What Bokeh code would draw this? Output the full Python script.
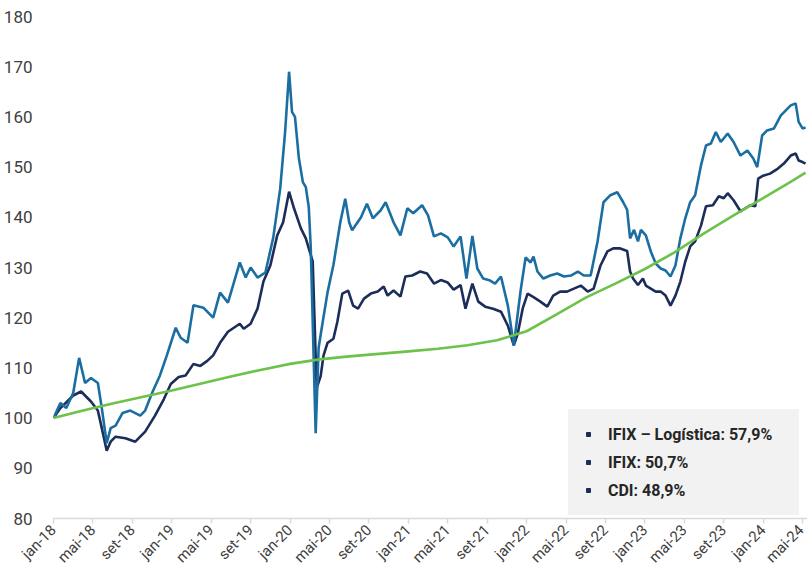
import numpy as np
import pandas as pd
from bokeh.plotting import figure
from bokeh.models import Range1d, FixedTicker, Legend, LegendItem
from bokeh.embed import file_html
from bokeh.resources import INLINE

# ---------------- data ----------------
log_dates = [
    "2018-01-01", "2018-01-22", "2018-02-10", "2018-03-01", "2018-03-19", "2018-04-07", "2018-04-25",
    "2018-05-16", "2018-05-28", "2018-06-13", "2018-06-25", "2018-07-10", "2018-08-01", "2018-08-25",
    "2018-09-25", "2018-10-10", "2018-11-01", "2018-11-25", "2018-12-16", "2019-01-13", "2019-01-28",
    "2019-02-19", "2019-03-07", "2019-04-07", "2019-05-07", "2019-05-28", "2019-06-22", "2019-07-10",
    "2019-07-28", "2019-08-16", "2019-09-01", "2019-09-22", "2019-10-16", "2019-11-10", "2019-12-01",
    "2019-12-16", "2019-12-28", "2020-01-07", "2020-01-16", "2020-01-28", "2020-02-10", "2020-02-19",
    "2020-02-28", "2020-03-04", "2020-03-19", "2020-03-28", "2020-04-10", "2020-04-25", "2020-05-13",
    "2020-06-04", "2020-06-19", "2020-07-01", "2020-07-10", "2020-08-07", "2020-08-25", "2020-09-13",
    "2020-10-07", "2020-10-22", "2020-11-16", "2020-12-07", "2020-12-28", "2021-01-16", "2021-02-13",
    "2021-03-01", "2021-03-19", "2021-04-10", "2021-05-01", "2021-05-19", "2021-06-10", "2021-06-28",
    "2021-07-16", "2021-08-01", "2021-08-19", "2021-09-10", "2021-09-25", "2021-10-13", "2021-11-04",
    "2021-11-22", "2021-12-13", "2021-12-28", "2022-01-13", "2022-01-22", "2022-02-04", "2022-02-22",
    "2022-03-13", "2022-04-04", "2022-04-25", "2022-05-16", "2022-06-07", "2022-06-25", "2022-07-16",
    "2022-08-07", "2022-08-25", "2022-09-16", "2022-10-07", "2022-10-25", "2022-11-07", "2022-11-16",
    "2022-11-28", "2022-12-10", "2022-12-19", "2023-01-04", "2023-01-19", "2023-02-04", "2023-02-19",
    "2023-03-04", "2023-03-19", "2023-04-04", "2023-04-19", "2023-05-04", "2023-05-19", "2023-06-04",
    "2023-06-22", "2023-07-07", "2023-07-22", "2023-08-07", "2023-08-22", "2023-09-13", "2023-10-01",
    "2023-10-22", "2023-11-13", "2023-12-01", "2023-12-13", "2023-12-28", "2024-01-13", "2024-02-04",
    "2024-02-25", "2024-03-10", "2024-03-25", "2024-04-10", "2024-04-19", "2024-05-01", "2024-05-10",
]
log_values = [
    100, 103, 102, 105, 112, 107, 108,
    107, 102, 95, 98, 98.5, 101, 101.5,
    100.5, 101.5, 105, 108.5, 112.5, 118, 116,
    115, 122.5, 122, 120, 125, 123, 127,
    131, 128, 130, 128, 129, 136, 145.7,
    157, 169, 161, 160, 151.7, 147, 146,
    142, 134, 97, 114, 119, 125, 130.5,
    139, 143.7, 139, 137.4, 140, 142.7, 139.8,
    141.4, 143, 139, 136.4, 141.8, 140.8, 142.4,
    140.4, 136.2, 136.8, 136, 134.2, 136.2, 127.8,
    136.3, 129.8, 127.8, 127.4, 126.8, 128.2, 122.4,
    114.5, 125.5, 132, 131, 132.2, 129.2, 127.8,
    128.4, 128.8, 128.2, 128.4, 129.2, 128.4, 128.4,
    135.2, 143, 144.4, 145, 143, 141.5, 135.8,
    137.5, 135.2, 137.5, 136.4, 133.2, 130.8, 129.8,
    129.4, 128.2, 130.4, 135.8, 139.8, 143, 144.4,
    150.4, 154.3, 154.7, 157, 155, 156.7, 155,
    152.3, 153.3, 151.7, 150, 156.3, 157.3, 157.7,
    160.3, 161.3, 162.3, 162.7, 159, 157.7, 157.9,
]

ifix_dates = [
    "2018-01-01", "2018-01-22", "2018-03-01", "2018-03-25", "2018-04-25", "2018-05-16", "2018-05-28",
    "2018-06-13", "2018-06-25", "2018-07-10", "2018-08-10", "2018-09-10", "2018-10-10", "2018-11-10",
    "2018-12-07", "2018-12-28", "2019-01-22", "2019-02-13", "2019-03-07", "2019-03-28", "2019-04-19",
    "2019-05-07", "2019-05-28", "2019-06-22", "2019-07-10", "2019-07-28", "2019-08-10", "2019-09-01",
    "2019-09-22", "2019-10-10", "2019-11-01", "2019-11-22", "2019-12-10", "2019-12-28", "2020-01-13",
    "2020-02-04", "2020-02-19", "2020-02-28", "2020-03-10", "2020-03-22", "2020-04-04", "2020-04-13",
    "2020-04-25", "2020-05-13", "2020-05-25", "2020-06-10", "2020-06-28", "2020-07-13", "2020-07-28",
    "2020-08-16", "2020-09-07", "2020-09-28", "2020-10-16", "2020-10-28", "2020-11-16", "2020-12-07",
    "2020-12-22", "2021-01-13", "2021-02-07", "2021-02-28", "2021-03-19", "2021-04-10", "2021-05-01",
    "2021-05-19", "2021-06-10", "2021-06-25", "2021-07-16", "2021-08-04", "2021-08-25", "2021-09-19",
    "2021-10-13", "2021-11-04", "2021-11-22", "2021-12-04", "2021-12-19", "2022-01-04", "2022-01-22",
    "2022-02-13", "2022-03-04", "2022-03-22", "2022-04-13", "2022-05-04", "2022-05-25", "2022-06-16",
    "2022-07-07", "2022-07-25", "2022-08-16", "2022-09-07", "2022-09-25", "2022-10-16", "2022-11-07",
    "2022-11-16", "2022-11-25", "2022-12-10", "2022-12-25", "2023-01-04", "2023-01-19", "2023-02-04",
    "2023-02-19", "2023-03-04", "2023-03-19", "2023-04-04", "2023-04-19", "2023-05-04", "2023-05-19",
    "2023-06-04", "2023-06-22", "2023-07-07", "2023-07-28", "2023-08-16", "2023-09-01", "2023-09-13",
    "2023-10-01", "2023-10-22", "2023-11-07", "2023-11-22", "2023-12-07", "2023-12-16", "2024-01-01",
    "2024-01-22", "2024-02-16", "2024-03-04", "2024-03-25", "2024-04-10", "2024-04-19", "2024-05-01",
    "2024-05-10",
]
ifix_values = [
    100, 102, 104.5, 105.3, 103.3, 101.5, 98,
    93.5, 95.3, 96.3, 96, 95.3, 97.3, 100.5,
    103.8, 106.8, 108.2, 108.5, 110.8, 110.4, 111.4,
    112.5, 115, 117.2, 118, 118.8, 117.8, 118.8,
    121.8, 127.2, 130.4, 136.4, 139, 145.1, 141.8,
    137.8, 135.8, 133.8, 131.2, 106, 108.3, 112.5,
    115, 115.8, 119.2, 124.8, 125.4, 122.4, 121.8,
    123.8, 124.8, 125.2, 126.2, 124.4, 125.4, 124.2,
    128.2, 128.4, 129.2, 128.8, 126.8, 127.5, 127,
    125.6, 126.5, 121.8, 126.8, 123.2, 122.2, 121.8,
    121.2, 118.4, 114.5, 116.8, 121.8, 124.8, 124.1,
    123.2, 122.2, 124.4, 125.2, 125.2, 125.8, 126.4,
    125.2, 125.8, 130.4, 133.2, 133.8, 133.8, 133.3,
    129.2, 127.8, 126.5, 127.8, 126.4, 125.8, 125.2,
    125.2, 124.4, 122.4, 124.4, 127.2, 131.2, 134.2,
    135.2, 138.4, 142.2, 142.4, 144.2, 143.8, 144.8,
    143.4, 141.2, 141.8, 142.4, 142.2, 147.7, 148.3,
    148.7, 149.7, 150.7, 152.3, 152.7, 151.3, 151,
    150.7,
]

cdi_dates = [
    "2018-01-01", "2018-04-01", "2018-07-01", "2018-10-01", "2019-01-01", "2019-04-01", "2019-07-01",
    "2019-10-01", "2020-01-01", "2020-04-01", "2020-07-01", "2020-10-01", "2021-01-01", "2021-04-01",
    "2021-07-01", "2021-10-01", "2022-01-01", "2022-04-01", "2022-07-01", "2022-10-01", "2023-01-01",
    "2023-04-01", "2023-07-01", "2023-10-01", "2024-01-01", "2024-04-01", "2024-05-10",
]
cdi_values = [
    100, 101.5, 102.9, 104.2, 105.5, 106.9, 108.3,
    109.6, 110.8, 111.7, 112.3, 112.8, 113.3, 113.8,
    114.5, 115.5, 117.3, 120.6, 124.0, 126.8, 129.7,
    133.0, 136.8, 140.4, 143.8, 147.3, 148.9,
]

tick_labels = [
    "jan-18", "mai-18", "set-18", "jan-19", "mai-19", "set-19", "jan-20", "mai-20", "set-20", "jan-21",
    "mai-21", "set-21", "jan-22", "mai-22", "set-22", "jan-23", "mai-23", "set-23", "jan-24", "mai-24",
]
y_ticks = [80, 90, 100, 110, 120, 130, 140, 150, 160, 170, 180]
legend_labels = ["IFIX \u2013 Log\u00edstica: 57,9%", "IFIX: 50,7%", "CDI: 48,9%"]

# ---------------- styling ----------------
C_LOG = "#1b6ea1"
C_IFIX = "#1c2d5a"
C_CDI = "#6cc24a"
LEGEND_BG = "#f2f2f2"
FONT = "Roboto"


def to_month(ds):
    d = pd.to_datetime(pd.Series(ds))
    return ((d.dt.year - 2018) * 12 + (d.dt.month - 1) + (d.dt.day - 1) / 30.0).to_numpy(dtype=float)


p = figure(frame_width=754, frame_height=502, output_backend="svg", toolbar_location=None,
           x_range=Range1d(0, 76.5), y_range=Range1d(80, 180),
           min_border_left=45, min_border_right=0, min_border_top=16, min_border_bottom=40)
p.outline_line_color = None
p.grid.visible = False
p.background_fill_color = "white"
p.border_fill_color = "white"

p.line(to_month(ifix_dates), ifix_values, line_color=C_IFIX, line_width=2.6)
p.line(to_month(log_dates), log_values, line_color=C_LOG, line_width=2.6)
p.line(to_month(cdi_dates), cdi_values, line_color=C_CDI, line_width=2.6)

# y axis
yax = p.yaxis[0]
yax.ticker = FixedTicker(ticks=y_ticks)
yax.axis_line_color = None
yax.major_tick_line_color = None
yax.minor_tick_line_color = None
yax.major_label_standoff = 15
yax.major_label_text_font = FONT
yax.major_label_text_font_size = "17px"
yax.major_label_text_color = "#404040"

# x axis
xax = p.xaxis[0]
xt = [i * 4 for i in range(len(tick_labels))]
xax.ticker = FixedTicker(ticks=xt)
xax.major_label_overrides = {t: lab for t, lab in zip(xt, tick_labels)}
xax.major_label_orientation = np.pi / 4
xax.axis_line_color = "#d9d9d9"
xax.axis_line_width = 1.5
xax.major_tick_line_color = "#d9d9d9"
xax.major_tick_line_width = 1.5
xax.major_tick_in = 0
xax.major_tick_out = 5
xax.minor_tick_line_color = None
xax.major_label_text_font = FONT
xax.major_label_text_font_size = "15px"
xax.major_label_text_color = "#404040"
xax.major_label_standoff = 4

# legend with small navy squares
items = []
for lab in legend_labels:
    r = p.scatter([np.nan], [np.nan], marker="square", size=4, color=C_IFIX)
    items.append(LegendItem(label=lab, renderers=[r]))
legend = Legend(items=items, location=(515, 3), orientation="vertical",
                background_fill_color=LEGEND_BG, background_fill_alpha=1.0,
                border_line_color=LEGEND_BG, border_line_alpha=1.0, border_line_width=1,
                padding=14, spacing=8, margin=0,
                glyph_width=10, glyph_height=20, label_height=20, label_standoff=15,
                label_width=176, label_text_font=FONT, label_text_font_style="bold",
                label_text_font_size="16px", label_text_color="#262626")
p.add_layout(legend)

open("out.html", "w").write(file_html(p, INLINE))
